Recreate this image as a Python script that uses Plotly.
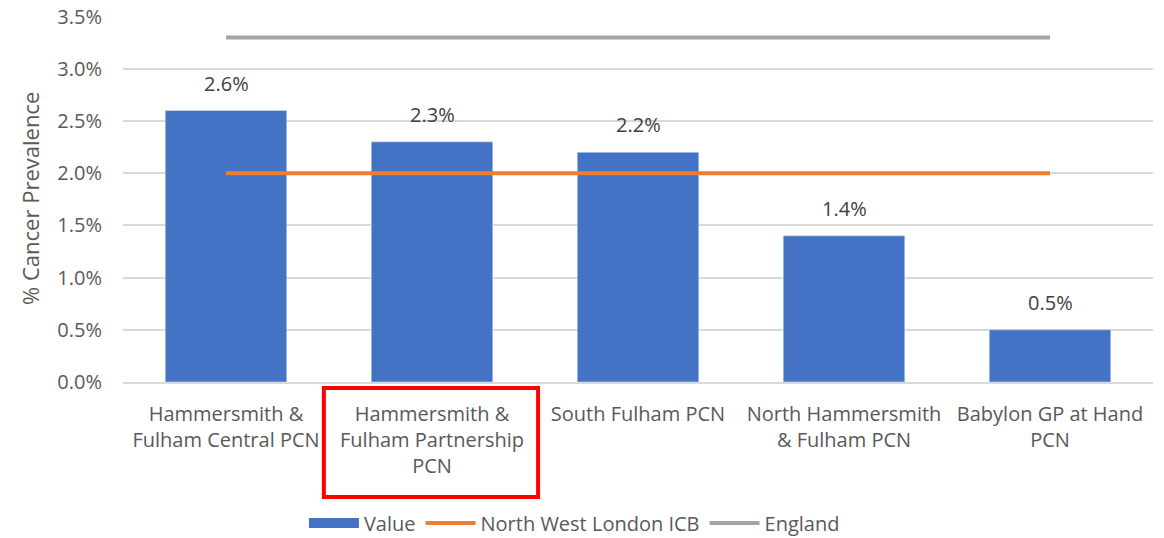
import plotly.graph_objects as go

categories = [
    "Hammersmith &<br>Fulham Central PCN",
    "Hammersmith &<br>Fulham Partnership<br>PCN",
    "South Fulham PCN",
    "North Hammersmith<br>& Fulham PCN",
    "Babylon GP at Hand<br>PCN",
]
values = [2.6, 2.3, 2.2, 1.4, 0.5]
nwl_icb = [2.0, 2.0, 2.0, 2.0, 2.0]
england = [3.3, 3.3, 3.3, 3.3, 3.3]
y_ticks = [0.0, 0.5, 1.0, 1.5, 2.0, 2.5, 3.0, 3.5]
y_tick_labels = ["0.0%", "0.5%", "1.0%", "1.5%", "2.0%", "2.5%", "3.0%", "3.5%"]
y_title = "% Cancer Prevalence"

FONT = "Open Sans"
GREY = "#595959"
FS = 20
BLUE = "#4472C4"

fig = go.Figure()
fig.add_trace(go.Bar(x=categories, y=values, name="Value", marker_color=BLUE,
                     width=0.59, hoverinfo="skip", showlegend=False))
# legend proxy so the "Value" key shows as a wide block like the original
fig.add_trace(go.Scatter(x=[None], y=[None], name="Value", mode="lines",
                         line=dict(color=BLUE, width=12)))
fig.add_trace(go.Scatter(x=categories, y=nwl_icb, name="North West London ICB", mode="lines",
                         line=dict(color="#ED7D31", width=4)))
fig.add_trace(go.Scatter(x=categories, y=england, name="England", mode="lines",
                         line=dict(color="#A5A5A5", width=4)))

for c, v in zip(categories, values):
    fig.add_annotation(x=c, y=v, text=f"{v:.1f}%", showarrow=False, yanchor="bottom",
                       yshift=12, font=dict(family=FONT, size=FS, color="#404040"))

# y-axis title
fig.add_annotation(xref="paper", yref="paper", x=-0.0903, y=0.503, text=y_title,
                   textangle=-90, showarrow=False, xanchor="center", yanchor="middle",
                   font=dict(family=FONT, size=22, color=GREY))

fig.add_shape(type="rect", xref="paper", yref="paper", x0=0.195, x1=0.403, y0=-0.314, y1=-0.0164,
              line=dict(color="#FF0000", width=4), fillcolor="rgba(0,0,0,0)")

# page body adds an 8px offset, so the figure is sized 8px smaller
fig.update_layout(
    width=1156, height=530,
    margin=dict(l=115, r=11, t=8, b=156, autoexpand=False),
    plot_bgcolor="white", paper_bgcolor="white",
    font=dict(family=FONT, size=FS, color=GREY),
    showlegend=True,
    legend=dict(orientation="h", xref="container", x=0.49, xanchor="center",
                yref="paper", y=-0.385, yanchor="middle",
                font=dict(family=FONT, size=FS, color=GREY),
                itemwidth=50, traceorder="normal", tracegroupgap=0),
    bargap=0.41,
)
fig.update_yaxes(range=[0, 3.505], tickvals=y_ticks, ticktext=y_tick_labels,
                 showgrid=True, gridcolor="#D9D9D9", gridwidth=1.5, zeroline=False,
                 showline=False, ticks="", tickfont=dict(size=FS, color=GREY), automargin=False,
                 ticklabelstandoff=20, ticklabeloverflow="allow")
fig.update_xaxes(showline=True, linecolor="#D9D9D9", linewidth=1.5, ticks="", automargin=False,
                 tickfont=dict(size=FS, color=GREY), ticklabelstandoff=13, tickangle=0)

fig.write_html("out.html")
